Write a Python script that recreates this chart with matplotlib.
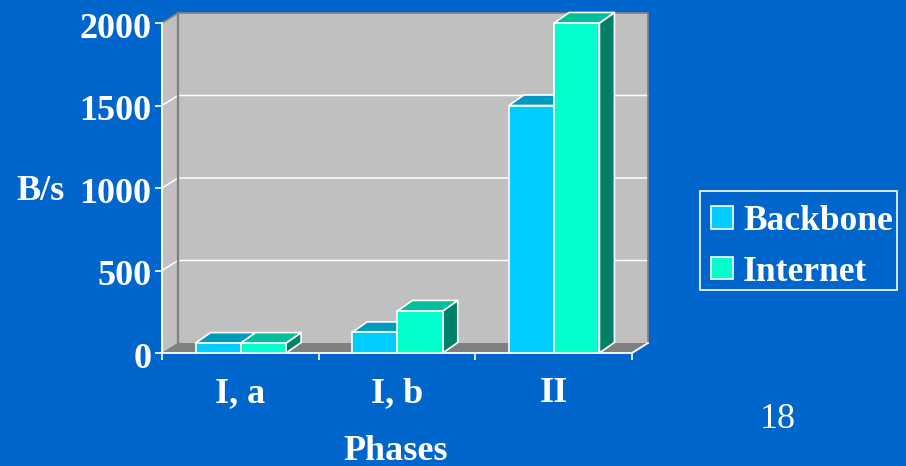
import matplotlib
matplotlib.use("Agg")
import matplotlib.pyplot as plt
from matplotlib.patches import Polygon, Patch, Rectangle
from matplotlib.ticker import FixedLocator
from matplotlib.transforms import ScaledTranslation

categories = ["I, a", "I, b", "II"]
backbone = [60, 125, 1500]
internet = [60, 255, 2000]
y_ticks = [0, 500, 1000, 1500, 2000]
series_names = ["Backbone", "Internet"]

BG = "#0066CC"; WALL = "#C0C0C0"; FLOOR = "#808080"; WHITE = "#FFFFFF"
C1, C1_TOP, C1_SIDE = "#00CCFF", "#0099BF", "#007A99"
C2, C2_TOP, C2_SIDE = "#00FFCC", "#00BF99", "#008066"
SERIF = "Liberation Serif"
FS = 26

W, H = 906, 466
fig = plt.figure(figsize=(W / 100, H / 100), dpi=100, facecolor=BG)
L, R, T, B = 162, 632, 23, 353
ax = fig.add_axes([L / W, 1 - B / H, (R - L) / W, (B - T) / H])
ax.set_xlim(0, 3)
ax.set_ylim(0, 2000)
ax.patch.set_alpha(0)
for s in ax.spines.values():
    s.set_visible(False)

dx = 16 / ((R - L) / 3)          # depth in category units
dy = 10 / ((B - T) / 2000)       # depth in value units
bdx = 15 / ((R - L) / 3)
bdy = 10.5 / ((B - T) / 2000)
top = 2000
poly = lambda pts, fc, ec="none", lw=0, z=1: ax.add_patch(
    Polygon(pts, closed=True, fc=fc, ec=ec, lw=lw, zorder=z, clip_on=False, joinstyle="round"))

# walls and floor
poly([(dx, dy), (3 + dx, dy), (3 + dx, top + dy), (dx, top + dy)], WALL, z=1)
poly([(0, 0), (dx, dy), (dx, top + dy), (0, top)], WALL, z=1)
poly([(0, 0), (3, 0), (3 + dx, dy), (dx, dy)], FLOOR, z=1)

# gridlines
for v in y_ticks[1:-1]:
    ax.plot([0, dx, 3 + dx], [v, v + dy, v + dy], color=WHITE, lw=1.1, zorder=2, clip_on=False)
# wall edges
ax.plot([dx, dx], [dy, top + dy], color=FLOOR, lw=1.6, zorder=3, clip_on=False)
ax.plot([0, dx, 3 + dx, 3 + dx], [top, top + dy, top + dy, dy], color=FLOOR, lw=1.2, zorder=3, clip_on=False)
# axes lines
ax.plot([0, 0], [0, top], color=WHITE, lw=1.3, zorder=4, clip_on=False)
ax.plot([0, 3, 3 + dx], [0, 0, dy], color=WHITE, lw=1.3, zorder=4, clip_on=False)

# bars
bw = 45.3 / ((R - L) / 3)
gap = 33.5 / ((R - L) / 3)
edge = dict(ec=WHITE, lw=1.2)
for i in range(len(categories)):
    x1 = i + gap
    x2 = x1 + bw
    for x, v, c, ct, cs, z in ((x1, backbone[i], C1, C1_TOP, C1_SIDE, 5),
                               (x2, internet[i], C2, C2_TOP, C2_SIDE, 6)):
        poly([(x + bw, 0), (x + bw + bdx, bdy), (x + bw + bdx, v + bdy), (x + bw, v)], cs, z=z, **edge)
        poly([(x, v), (x + bw, v), (x + bw + bdx, v + bdy), (x + bdx, v + bdy)], ct, z=z, **edge)
        ax.bar(x, v, width=bw, align="edge", color=c, edgecolor=WHITE, linewidth=1.2, zorder=z, clip_on=False)

# ticks
ax.set_yticks(y_ticks)
ax.set_yticklabels([str(v) for v in y_ticks])
ax.set_xticks(range(4))
ax.set_xticklabels([])
ax.xaxis.set_minor_locator(FixedLocator([0.5, 1.5, 2.5]))
ax.set_xticklabels(categories, minor=True)
ax.tick_params(axis="x", which="major", length=5, width=1.2, color=WHITE)
ax.tick_params(axis="x", which="minor", length=0, pad=17.5, labelcolor=WHITE)
ax.tick_params(axis="y", length=5, width=1.2, color=WHITE, pad=2.5, labelcolor=WHITE)
shift = ScaledTranslation(0, -1.5 / 72, fig.dpi_scale_trans)
for t in ax.get_yticklabels():
    t.set_transform(t.get_transform() + shift)
for t in ax.get_yticklabels() + ax.get_xticklabels(minor=True):
    t.set_fontfamily(SERIF); t.set_fontweight("bold"); t.set_fontsize(FS)

ax.set_ylabel("B/s", rotation=0, family=SERIF, weight="bold", size=FS, color=WHITE, ha="center", va="center")
ax.yaxis.set_label_coords((41 - L) / (R - L), (B - 192) / (B - T))
ax.set_xlabel("Phases", family=SERIF, weight="bold", size=FS, color=WHITE, ha="center", va="center")
ax.xaxis.set_label_coords((396 - L) / (R - L), (B - 451) / (B - T))

# legend: frame drawn separately so that its right padding matches
fig.add_artist(Rectangle((700 / W, 1 - 289.5 / H), 197 / W, 98.5 / H, transform=fig.transFigure,
                         fc=BG, ec=WHITE, lw=1.2))
handles = [Patch(fc=C1, ec=WHITE, lw=1.2), Patch(fc=C2, ec=WHITE, lw=1.2)]
leg = fig.legend(handles, series_names, loc="upper left",
                 bbox_to_anchor=(710.5 / W, 1 - 205 / H), borderaxespad=0, frameon=False,
                 prop=dict(family=SERIF, weight="bold", size=25.5),
                 labelcolor=WHITE, handlelength=0.64, handleheight=0.58, handletextpad=0.28,
                 borderpad=0, labelspacing=0.5)

fig.text(778 / W, 1 - 420 / H, "18", family=SERIF, size=26, color=WHITE, ha="center", va="center")

fig.savefig("out.png", dpi=100, facecolor=BG)
